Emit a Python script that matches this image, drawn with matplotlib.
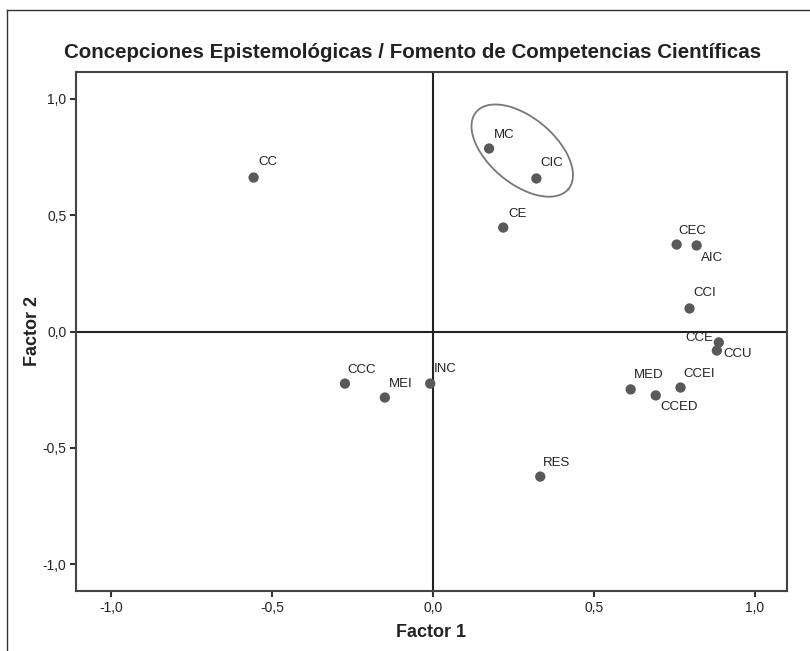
import numpy as np
import matplotlib
matplotlib.use("Agg")
import matplotlib.pyplot as plt
from matplotlib.lines import Line2D
from matplotlib.ticker import FuncFormatter

plt.rcParams["font.family"] = ["Liberation Sans", "DejaVu Sans"]

# ── data (factor loadings) ───────────────────────────────────────────────
labels = ["CC", "MC", "CIC", "CE", "CEC", "AIC", "CCI", "CCE", "CCU",
          "CCC", "MEI", "INC", "MED", "CCED", "CCEI", "RES"]
factor1 = [-0.558, 0.174, 0.321, 0.218, 0.757, 0.819, 0.797, 0.888, 0.882,
           -0.274, -0.150, -0.009, 0.614, 0.692, 0.769, 0.333]
factor2 = [0.662, 0.787, 0.658, 0.447, 0.374, 0.370, 0.099, -0.047, -0.082,
           -0.224, -0.284, -0.224, -0.249, -0.275, -0.241, -0.624]
ticks = [-1.0, -0.5, 0.0, 0.5, 1.0]

# label placement (offset in pixels, horizontal alignment)
label_pos = {
    "CC": (5, 16, "left"), "MC": (5, 14, "left"), "CIC": (4, 15, "left"),
    "CE": (5, 14, "left"), "CEC": (2, 14, "left"), "AIC": (4, -13, "left"),
    "CCI": (4, 15, "left"), "CCE": (-6, 4, "right"), "CCU": (7, -3, "left"),
    "CCC": (2, 14, "left"), "MEI": (4, 14, "left"), "INC": (4, 15, "left"),
    "MED": (3, 14, "left"), "CCED": (5, -12, "left"), "CCEI": (3, 14, "left"),
    "RES": (3, 14, "left"),
}

W, H = 810, 651
fig = plt.figure(figsize=(W / 100, H / 100), dpi=100)
ax = fig.add_axes([76 / W, 1 - 591 / H, (787 - 76) / W, (591 - 72) / H])

dot = "#595959"
ax.scatter(factor1, factor2, s=55, color=dot, edgecolors="none", zorder=3)
px2pt = 0.72
for lbl, x, y in zip(labels, factor1, factor2):
    dx, dy, ha = label_pos[lbl]
    ax.annotate(lbl, (x, y), xytext=(dx * px2pt, dy * px2pt),
                textcoords="offset points", ha=ha, va="center",
                fontsize=9.5, color="#222222", zorder=4)

ax.axhline(0, color="#222222", lw=1.5, zorder=2)
ax.axvline(0, color="#222222", lw=1.5, zorder=2)

# ellipse around MC / CIC (drawn in pixel units around a data centre)
cx, cy = 0.277, 0.778
a_px, b_px, ang = 60, 33, np.deg2rad(-40)
sx, sy = 321.0, 232.5
t = np.linspace(0, 2 * np.pi, 200)
ex = cx + (a_px * np.cos(ang) * np.cos(t) - b_px * np.sin(ang) * np.sin(t)) / sx
ey = cy + (a_px * np.sin(ang) * np.cos(t) + b_px * np.cos(ang) * np.sin(t)) / sy
ax.plot(ex, ey, color="#777777", lw=1.3, zorder=2)

ax.set_xlim(-1.11, 1.10)
ax.set_ylim(-1.116, 1.116)
ax.set_xticks(ticks)
ax.set_yticks(ticks)
fmt = FuncFormatter(lambda v, p: f"{v:.1f}".replace(".", ","))
ax.xaxis.set_major_formatter(fmt)
ax.yaxis.set_major_formatter(fmt)
ax.tick_params(direction="out", length=4, width=1.5, color="#333333",
               labelsize=10, labelcolor="#222222", pad=3)
for s in ax.spines.values():
    s.set_color("#444444")
    s.set_linewidth(1.5)

ax.set_xlabel("Factor 1", fontsize=13, fontweight="bold", color="#222222", labelpad=7)
ax.set_ylabel("Factor 2", fontsize=13, fontweight="bold", color="#222222", labelpad=1)

fig.text(413 / W, 1 - 53 / H,
         "Concepciones Epistemológicas / Fomento de Competencias Científicas",
         ha="center", va="center", fontsize=14.8, fontweight="bold", color="#222222")

# outer frame (top and left edges only visible)
fig.add_artist(Line2D([7 / W, 1], [1 - 10 / H, 1 - 10 / H], transform=fig.transFigure,
                      color="#333333", lw=1))
fig.add_artist(Line2D([7 / W, 7 / W], [0, 1 - 10 / H], transform=fig.transFigure,
                      color="#333333", lw=1))

fig.savefig("out.png", dpi=100)
